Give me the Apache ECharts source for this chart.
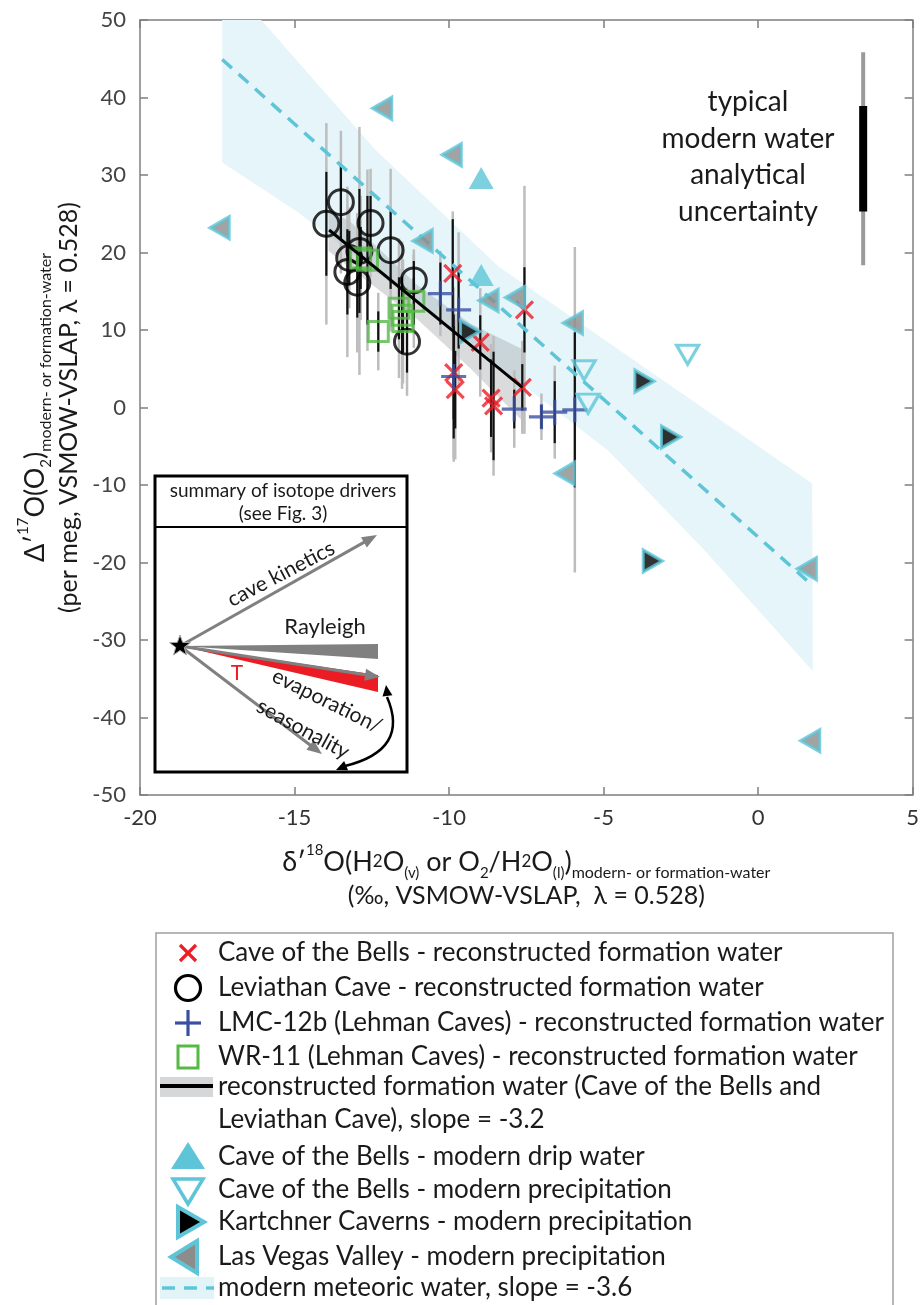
<!DOCTYPE html>
<html>
<head>
<meta charset="utf-8">
<title>Triple oxygen isotopes of formation water</title>
<script src="https://cdn.jsdelivr.net/npm/echarts@6/dist/echarts.min.js"></script>
<style>
    html, body { margin: 0; padding: 0; background: #fff; }
    #chart { width: 922px; height: 1305px; }
</style>
</head>
<body>
<div id="chart"></div>
<script>
// axis ranges
var xRange = [-20, 5, 5];
var yRange = [-50, 50, 10];

// reconstructed formation water: [d18O, D17O, black error, grey error]
var bellsFormation = [
    [-9.88, 17.3, 7.0, 8.0],
    [-7.56, 12.6, 5.5, 16.0],
    [-8.99, 8.4, 3.5, 7.0],
    [-9.85, 4.5, 6.0, 11.0],
    [-9.80, 2.3, 5.0, 9.0],
    [-8.64, 1.2, 5.0, 7.0],
    [-8.56, 0.2, 7.0, 9.0],
    [-7.63, 2.6, 3.0, 6.0]
];
var leviathan = [
    [-13.50, 26.5, 4.7, 9.2],
    [-13.97, 23.7, 6.7, 13.0],
    [-12.54, 23.8, 3.5, 7.0],
    [-11.89, 20.3, 5.0, 10.5],
    [-12.90, 20.2, 8.0, 16.0],
    [-13.23, 19.3, 3.5, 6.5],
    [-13.29, 17.5, 5.5, 11.0],
    [-12.97, 16.1, 4.5, 9.0],
    [-11.14, 16.4, 2.5, 4.0],
    [-11.36, 8.5, 4.0, 7.0]
];
var lmc12b = [
    [-10.28, 14.7, 4.0, 5.5],
    [-9.69, 12.6, 5.0, 10.0],
    [-9.85, 4.0, 8.0, 11.0],
    [-7.89, -0.2, 2.5, 5.0],
    [-7.01, -1.2, 1.5, 3.0],
    [-6.58, -0.6, 4.0, 6.0],
    [-5.93, -0.3, 10.0, 21.0]
];
var wr11 = [
    [-12.86, 19.3, 4.0, 8.0],
    [-12.64, 19.0, 8.3, 11.7],
    [-11.14, 13.7, 3.0, 6.0],
    [-11.62, 12.8, 4.0, 9.0],
    [-11.52, 11.9, 5.0, 9.5],
    [-11.49, 11.1, 4.0, 8.0],
    [-12.29, 9.8, 2.6, 5.0]
];

// fit through Cave of the Bells and Leviathan Cave, slope -3.2
var recLine = [[-13.88, 22.9], [-7.63, 2.6]];
var recBandUpper = [[-13.9, 25.5], [-13.2, 24.0], [-11.0, 15.7], [-9.3, 10.8], [-7.56, 7.4]];
var recBandLower = [[-13.9, 20.2], [-13.2, 18.0], [-11.0, 11.3], [-9.3, 5.0], [-7.56, -2.0]];

// modern waters
var dripWater = [[-8.96, 29.6], [-8.96, 17.1]];
var bellsPrecip = [[-2.28, 6.8], [-5.63, 4.8], [-5.50, 0.5]];
var kartchner = [[-3.68, 3.4], [-2.82, -3.8], [-9.32, 9.8], [-3.41, -19.8]];
var lasVegas = [
    [-12.16, 38.6], [-9.91, 32.6], [-17.42, 23.2], [-10.85, 21.5], [-8.72, 13.8],
    [-7.86, 14.2], [-5.99, 10.9], [-6.25, -8.5], [1.58, -20.8], [1.69, -43.0]
];

// modern meteoric water, slope -3.6
var meteoricLine = [[-17.34, 44.9], [1.77, -23.0]];
var meteoricUpper = [[-17.34, 55.8], [-16.08, 50.0], [-12.37, 33.2], [-8.4, 18.2], [1.75, -9.8]];
var meteoricLower = [[-17.34, 31.6], [-14.85, 25.1], [-4.86, -5.5], [-1.74, -18.4], [1.77, -34.0]];

// typical modern water analytical uncertainty: [x, centre, black error, grey error]
var typicalUncertainty = [[3.40, 32.1, 6.8, 13.75]];

var legendLabels = [
    'Cave of the Bells - reconstructed formation water',
    'Leviathan Cave - reconstructed formation water',
    'LMC-12b (Lehman Caves) - reconstructed formation water',
    'WR-11 (Lehman Caves) - reconstructed formation water',
    'reconstructed formation water (Cave of the Bells and',
    'Leviathan Cave), slope = -3.2',
    'Cave of the Bells - modern drip water',
    'Cave of the Bells - modern precipitation',
    'Kartchner Caverns - modern precipitation',
    'Las Vegas Valley - modern precipitation',
    'modern meteoric water, slope = -3.6'
];

var CYAN = '#5dc5d7';
var FONT = 'Lato';

(function () {
    var chart = echarts.init(document.getElementById('chart'), null, { renderer: 'canvas' });

    var allFormation = bellsFormation.concat(leviathan, lmc12b, wr11);

    function bandRender(upper, lower, fill) {
        return function (params, api) {
            if (params.dataIndex !== 0) {
                return null;
            }
            var pts = [];
            upper.forEach(function (p) { pts.push(api.coord(p)); });
            lower.slice().reverse().forEach(function (p) { pts.push(api.coord(p)); });
            return { type: 'polygon', shape: { points: pts }, style: { fill: fill } };
        };
    }

    function errorRender(col, color, width) {
        return function (params, api) {
            var x = api.value(0), y = api.value(1), e = api.value(col);
            var a = api.coord([x, y + e]);
            var b = api.coord([x, y - e]);
            return {
                type: 'line',
                shape: { x1: a[0], y1: a[1], x2: b[0], y2: b[1] },
                style: { stroke: color, lineWidth: width }
            };
        };
    }

    function axisBase(extra) {
        var ax = {
            type: 'value',
            axisLine: { show: true, onZero: false, lineStyle: { color: '#7f7f7f', width: 1.5 } },
            axisTick: { show: true, inside: true, length: 8, lineStyle: { color: '#7f7f7f', width: 1.5 } },
            splitLine: { show: false },
            axisLabel: { show: false }
        };
        for (var k in extra) {
            ax[k] = extra[k];
        }
        return ax;
    }

    var xName = '{m|δ′}{sup|18}{m|O(H}{s2|2}{m|O}{sub|(v)}{m| or O}{sub|2}{m|/H}{s2|2}{m|O}{sub|(l)}{m|)}{sub2|modern- or formation-water}' +
        '\n{m2|(‰, VSMOW-VSLAP,  λ = 0.528)}';
    var yName = '{m|Δ′}{sup|17}{m|O(O}{sub|2}{m|)}{sub2|modern- or formation-water}' +
        '\n{m2|(per meg, VSMOW-VSLAP, λ = 0.528)}';
    var nameRich = {
        m: { fontSize: 27, fontFamily: FONT, color: '#1a1a1a', lineHeight: 38 },
        s2: { fontSize: 17, fontFamily: FONT, color: '#1a1a1a', lineHeight: 38 },
        sup: { fontSize: 15, fontFamily: FONT, color: '#1a1a1a', lineHeight: 16, verticalAlign: 'top' },
        sub: { fontSize: 15, fontFamily: FONT, color: '#1a1a1a', lineHeight: 16, verticalAlign: 'bottom' },
        sub2: { fontSize: 16, fontFamily: FONT, color: '#1a1a1a', lineHeight: 16, verticalAlign: 'bottom' },
        m2: { fontSize: 25, fontFamily: FONT, color: '#1a1a1a', lineHeight: 30 }
    };

    var option = {
        animation: false,
        backgroundColor: '#fff',
        grid: { left: 140, right: 6, top: 20, bottom: 510 },
        xAxis: [
            axisBase({
                min: xRange[0], max: xRange[1], interval: xRange[2], position: 'bottom',
                axisLabel: { show: true, fontSize: 22, color: '#333', fontFamily: FONT, margin: 12 },
                name: xName, nameLocation: 'middle', nameGap: 48,
                nameTextStyle: { rich: nameRich }
            }),
            axisBase({ min: xRange[0], max: xRange[1], interval: xRange[2], position: 'top' })
        ],
        yAxis: [
            axisBase({
                min: yRange[0], max: yRange[1], interval: yRange[2], position: 'left',
                axisLabel: { show: true, fontSize: 22, color: '#444', fontFamily: FONT, margin: 14 },
                name: yName, nameLocation: 'middle', nameGap: 35, nameRotate: 90,
                nameTextStyle: { rich: nameRich }
            }),
            axisBase({ min: yRange[0], max: yRange[1], interval: yRange[2], position: 'right' })
        ],
        series: [
            {
                type: 'custom', name: 'meteoric band', data: meteoricUpper, clip: true, z: 1, silent: true,
                renderItem: bandRender(meteoricUpper, meteoricLower, '#e5f5f9')
            },
            {
                type: 'custom', name: 'formation band', data: recBandUpper, clip: true, z: 1, silent: true,
                renderItem: bandRender(recBandUpper, recBandLower, 'rgba(160,165,170,0.4)')
            },
            {
                type: 'custom', name: 'grey errors', data: allFormation, z: 2, silent: true,
                encode: { x: 0, y: 1 },
                renderItem: errorRender(3, '#bdbdbd', 2.5)
            },
            {
                type: 'custom', name: 'black errors', data: allFormation, z: 3, silent: true,
                encode: { x: 0, y: 1 },
                renderItem: errorRender(2, '#111', 2.2)
            },
            {
                type: 'custom', name: 'typical grey', data: typicalUncertainty, z: 3, silent: true,
                encode: { x: 0, y: 1 },
                renderItem: errorRender(3, '#9a9a9a', 4)
            },
            {
                type: 'custom', name: 'typical black', data: typicalUncertainty, z: 3, silent: true,
                encode: { x: 0, y: 1 },
                renderItem: errorRender(2, '#000', 8)
            },
            {
                type: 'line', name: 'modern meteoric water, slope = -3.6', data: meteoricLine, z: 4,
                symbol: 'none', lineStyle: { color: CYAN, width: 3.5, type: [13, 9] }
            },
            {
                type: 'scatter', name: 'Cave of the Bells - reconstructed formation water', data: bellsFormation, z: 5,
                symbol: 'path://M0,0L10,10M10,0L0,10', symbolSize: 17,
                itemStyle: { color: 'transparent', borderColor: '#ee1c25', borderWidth: 3.2 }
            },
            {
                type: 'scatter', name: 'Leviathan Cave - reconstructed formation water', data: leviathan, z: 5,
                symbol: 'circle', symbolSize: 25,
                itemStyle: { color: 'transparent', borderColor: '#000', borderWidth: 3 }
            },
            {
                type: 'scatter', name: 'LMC-12b (Lehman Caves) - reconstructed formation water', data: lmc12b, z: 5,
                symbol: 'path://M5,0L5,10M0,5L10,5', symbolSize: 25,
                itemStyle: { color: 'transparent', borderColor: '#3a4fa3', borderWidth: 3.2 }
            },
            {
                type: 'scatter', name: 'WR-11 (Lehman Caves) - reconstructed formation water', data: wr11, z: 5,
                symbol: 'rect', symbolSize: 20,
                itemStyle: { color: 'transparent', borderColor: '#56b947', borderWidth: 3 }
            },
            {
                type: 'scatter', name: 'Cave of the Bells - modern drip water', data: dripWater, z: 5,
                symbol: 'triangle', symbolSize: [25, 22],
                itemStyle: { color: CYAN }
            },
            {
                type: 'scatter', name: 'Cave of the Bells - modern precipitation', data: bellsPrecip, z: 5,
                symbol: 'path://M0,0L10,0L5,9Z', symbolSize: [22, 19],
                itemStyle: { color: 'transparent', borderColor: CYAN, borderWidth: 3.2 }
            },
            {
                type: 'scatter', name: 'Kartchner Caverns - modern precipitation', data: kartchner, z: 5,
                symbol: 'path://M0,0L9,5L0,10Z', symbolSize: [19, 22],
                itemStyle: { color: '#000', borderColor: CYAN, borderWidth: 3.2 }
            },
            {
                type: 'scatter', name: 'Las Vegas Valley - modern precipitation', data: lasVegas, z: 5,
                symbol: 'path://M9,0L0,5L9,10Z', symbolSize: [19, 22],
                itemStyle: { color: '#8c8c8c', borderColor: CYAN, borderWidth: 3.2 }
            },
            {
                type: 'line', name: 'reconstructed formation water, slope = -3.2', data: recLine, z: 6,
                symbol: 'none', lineStyle: { color: '#000', width: 3 }
            }
        ],
        graphic: buildGraphic()
    };

    chart.setOption(option);

    function arrowHead(tip, from, len, half, color) {
        var dx = tip[0] - from[0], dy = tip[1] - from[1];
        var d = Math.sqrt(dx * dx + dy * dy);
        var ux = dx / d, uy = dy / d;
        var bx = tip[0] - ux * len, by = tip[1] - uy * len;
        return {
            type: 'polygon',
            shape: { points: [tip, [bx - uy * half, by + ux * half], [bx + uy * half, by - ux * half]] },
            style: { fill: color }
        };
    }

    function arrow(from, to, color, width) {
        var dx = to[0] - from[0], dy = to[1] - from[1];
        var d = Math.sqrt(dx * dx + dy * dy);
        var end = [to[0] - dx / d * 10, to[1] - dy / d * 10];
        return [
            { type: 'line', shape: { x1: from[0], y1: from[1], x2: end[0], y2: end[1] }, style: { stroke: color, lineWidth: width } },
            arrowHead(to, from, 15, 6, color)
        ];
    }

    function text(x, y, str, size, opts) {
        var el = {
            type: 'text', x: x, y: y,
            style: {
                text: str, fontSize: size, fontFamily: FONT, fill: '#1a1a1a',
                align: 'center', verticalAlign: 'middle'
            }
        };
        if (opts) {
            for (var k in opts) {
                if (k === 'style') {
                    for (var s in opts.style) {
                        el.style[s] = opts.style[s];
                    }
                } else {
                    el[k] = opts[k];
                }
            }
        }
        return el;
    }

    function starPoints(cx, cy, ro, ri) {
        var pts = [];
        for (var i = 0; i < 10; i++) {
            var r = i % 2 === 0 ? ro : ri;
            var a = -Math.PI / 2 + i * Math.PI / 5;
            pts.push([cx + r * Math.cos(a), cy + r * Math.sin(a)]);
        }
        return pts;
    }

    function buildGraphic() {
        var g = [];

        // uncertainty note
        var note = ['typical', 'modern water', 'analytical', 'uncertainty'];
        note.forEach(function (s, i) {
            g.push(text(748, 102 + i * 36.7, s, 28));
        });

        // inset: summary of isotope drivers
        var star = [180, 646];
        g.push({ type: 'rect', shape: { x: 155, y: 476, width: 252, height: 296 }, style: { fill: '#fff', stroke: '#000', lineWidth: 3 }, z: 10 });
        g.push({ type: 'line', shape: { x1: 155, y1: 527, x2: 407, y2: 527 }, style: { stroke: '#000', lineWidth: 2 }, z: 10 });
        g.push(text(283, 491, 'summary of isotope drivers', 19, { z: 11 }));
        g.push(text(283, 514, '(see Fig. 3)', 19, { z: 11 }));

        var inset = [];
        inset = inset.concat(arrow(star, [377, 535], '#808080', 3));
        inset.push(text(281, 574, 'cave kinetics', 21, { rotation: 0.48 }));
        inset.push({ type: 'polygon', shape: { points: [star, [378, 644], [378, 659]] }, style: { fill: '#808080' } });
        inset.push(text(325, 627, 'Rayleigh', 22));
        inset.push({ type: 'polygon', shape: { points: [star, [378, 675], [378, 692]] }, style: { fill: '#ec1c24' } });
        inset = inset.concat(arrow(star, [380, 677], '#808080', 3));
        inset.push(text(237, 673, 'T', 21, { style: { fill: '#ec1c24' } }));
        inset.push(text(327, 701, 'evaporation/', 21, { rotation: -0.46 }));
        inset = inset.concat(arrow(star, [322, 754], '#808080', 3));
        inset.push(text(303, 729, 'seasonality', 21, { rotation: -0.5 }));
        inset.push({ type: 'bezierCurve', shape: { x1: 387, y1: 697, x2: 345, y2: 766, cpx1: 410, cpy1: 750 }, style: { stroke: '#000', lineWidth: 2.5, fill: null } });
        inset.push(arrowHead([386, 685], [388, 700], 11, 5, '#000'));
        inset.push(arrowHead([336, 770], [350, 764], 11, 5, '#000'));
        inset.push({ type: 'polygon', shape: { points: starPoints(star[0], star[1], 11, 4.5) }, style: { fill: '#000', stroke: '#aaa', lineWidth: 1 } });
        inset.forEach(function (el) {
            el.z = 11;
            g.push(el);
        });

        // legend
        var lx = 188, tx = 218;
        var rows = [953, 988, 1023, 1057, 1087, 1120, 1157, 1190, 1222, 1257, 1288];
        g.push({ type: 'rect', shape: { x: 156, y: 933, width: 737, height: 400 }, style: { fill: '#fff', stroke: '#a0a0a0', lineWidth: 1.5 } });
        legendLabels.forEach(function (s, i) {
            g.push(text(tx, rows[i], s, 26, { style: { align: 'left' } }));
        });
        var y;
        y = rows[0];
        g.push({ type: 'polyline', shape: { points: [[lx - 8, y - 8], [lx + 8, y + 8]] }, style: { stroke: '#ee1c25', lineWidth: 3.2 } });
        g.push({ type: 'polyline', shape: { points: [[lx + 8, y - 8], [lx - 8, y + 8]] }, style: { stroke: '#ee1c25', lineWidth: 3.2 } });
        y = rows[1];
        g.push({ type: 'circle', shape: { cx: lx, cy: y, r: 12.5 }, style: { fill: null, stroke: '#000', lineWidth: 3.2 } });
        y = rows[2];
        g.push({ type: 'polyline', shape: { points: [[lx - 13, y], [lx + 13, y]] }, style: { stroke: '#3a4fa3', lineWidth: 3.2 } });
        g.push({ type: 'polyline', shape: { points: [[lx, y - 13], [lx, y + 13]] }, style: { stroke: '#3a4fa3', lineWidth: 3.2 } });
        y = rows[3];
        g.push({ type: 'rect', shape: { x: lx - 10, y: y - 11, width: 20, height: 22 }, style: { fill: null, stroke: '#56b947', lineWidth: 3 } });
        y = rows[4];
        g.push({ type: 'rect', shape: { x: 160, y: y - 10, width: 53, height: 20 }, style: { fill: '#d6d7d8' } });
        g.push({ type: 'line', shape: { x1: 160, y1: y - 1, x2: 213, y2: y - 1 }, style: { stroke: '#000', lineWidth: 4 } });
        y = rows[6];
        g.push({ type: 'polygon', shape: { points: [[lx, y - 15], [lx - 17, y + 12], [lx + 17, y + 12]] }, style: { fill: CYAN } });
        y = rows[7];
        g.push({ type: 'polygon', shape: { points: [[lx - 15, y - 11], [lx + 15, y - 11], [lx, y + 14]] }, style: { fill: null, stroke: CYAN, lineWidth: 3.5 } });
        y = rows[8];
        g.push({ type: 'polygon', shape: { points: [[lx - 10, y - 15], [lx + 16, y], [lx - 10, y + 15]] }, style: { fill: '#000', stroke: CYAN, lineWidth: 4 } });
        y = rows[9];
        g.push({ type: 'polygon', shape: { points: [[lx + 9, y - 16], [lx - 17, y], [lx + 9, y + 16]] }, style: { fill: '#8c8c8c', stroke: CYAN, lineWidth: 4 } });
        y = rows[10];
        g.push({ type: 'rect', shape: { x: 160, y: y - 11, width: 54, height: 22 }, style: { fill: '#e3f4f8' } });
        g.push({ type: 'line', shape: { x1: 162, y1: y, x2: 214, y2: y }, style: { stroke: CYAN, lineWidth: 3.5, lineDash: [13, 9] } });

        return g;
    }
})();
</script>
</body>
</html>
